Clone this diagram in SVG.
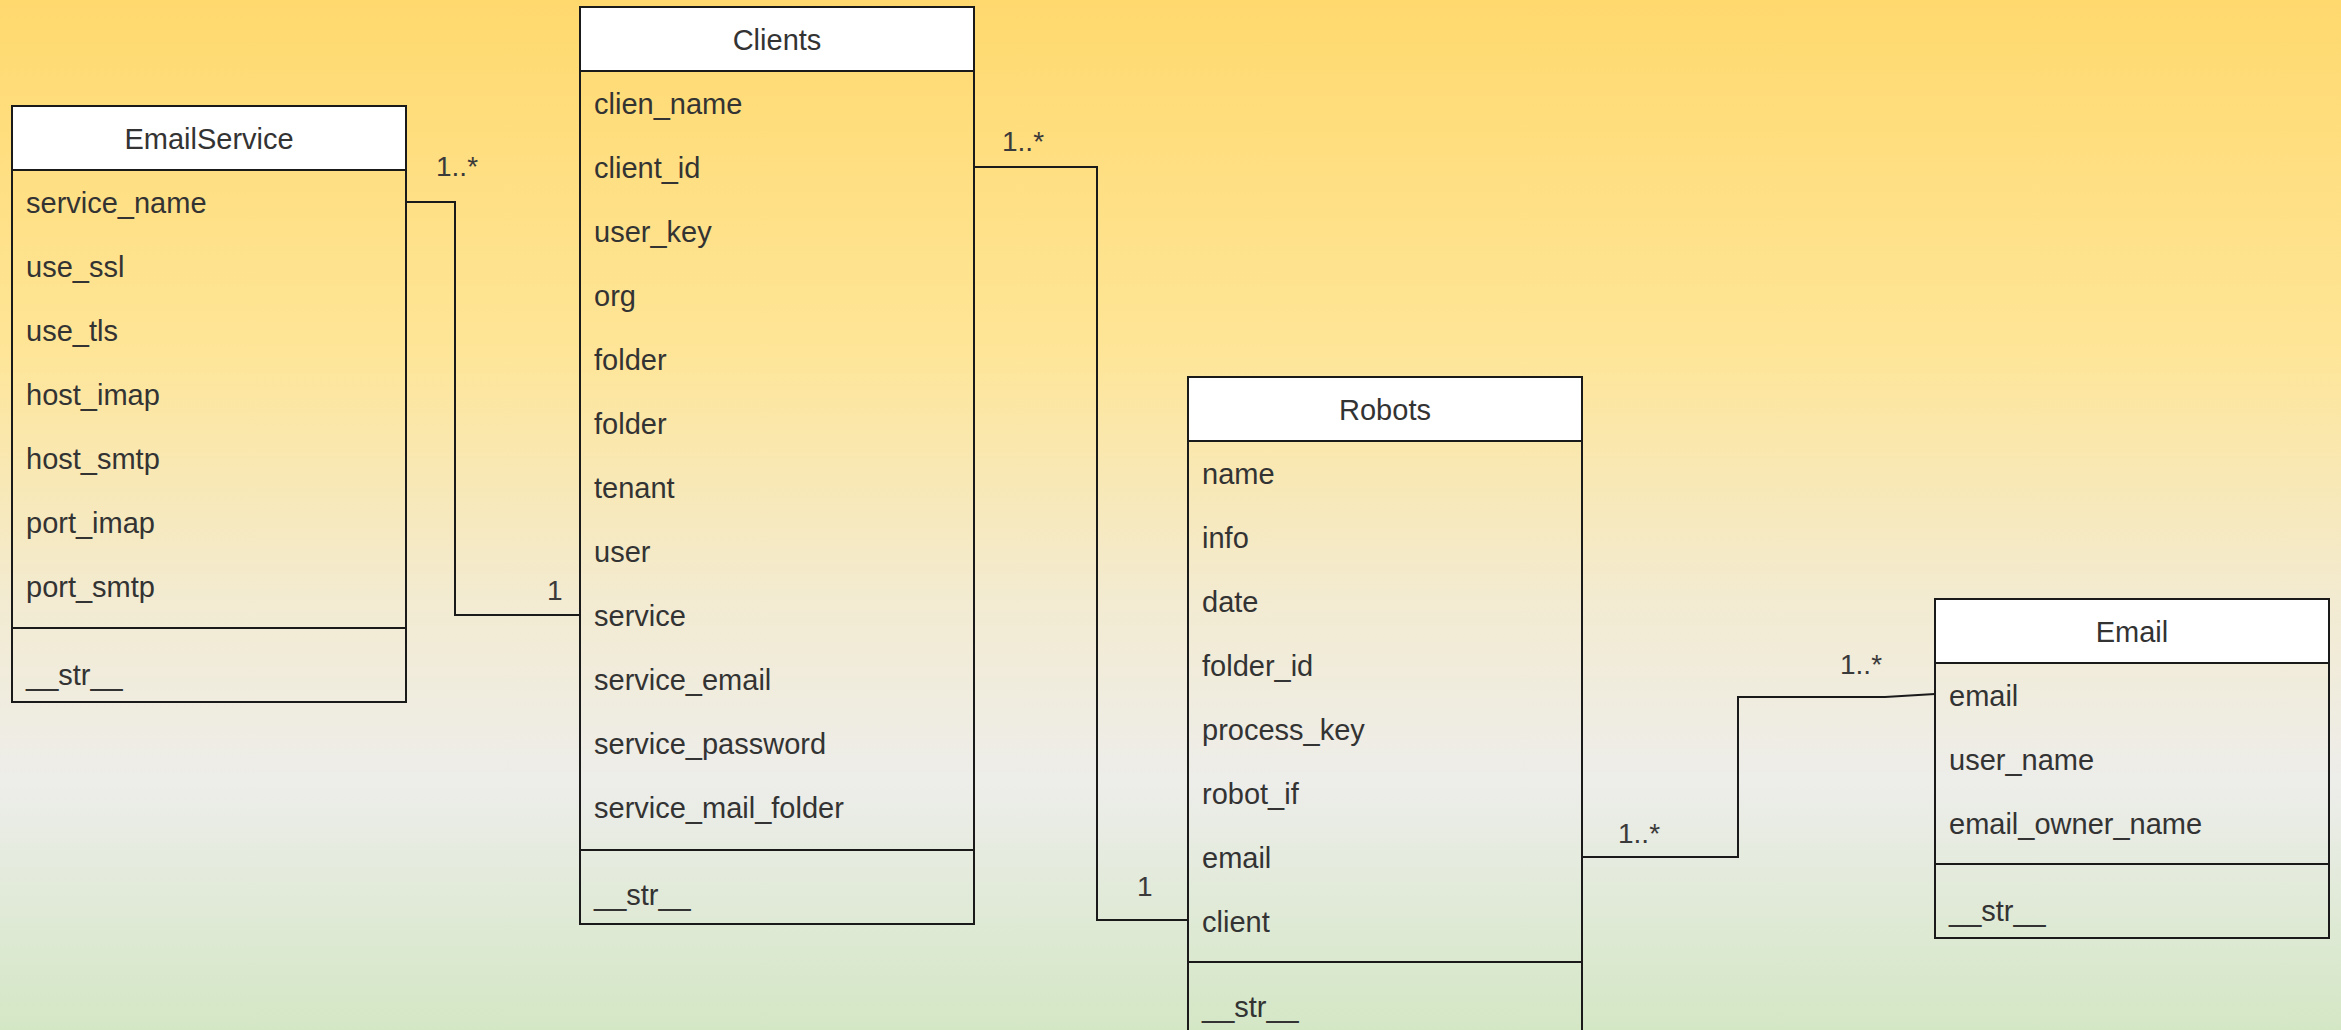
<svg xmlns="http://www.w3.org/2000/svg" width="2341" height="1030" viewBox="0 0 2341 1030">
<defs>
<linearGradient id="bg" x1="0" y1="0" x2="0" y2="1">
<stop offset="0" stop-color="#FFD96E"/>
<stop offset="0.34" stop-color="#FEE597"/>
<stop offset="0.58" stop-color="#F3EBD1"/>
<stop offset="0.76" stop-color="#EDEDEA"/>
<stop offset="1" stop-color="#D4E7C5"/>
</linearGradient>
<style>
.box{fill:none;stroke:#1a1a1a;stroke-width:2}
.hdr{fill:#ffffff;stroke:#1a1a1a;stroke-width:2}
.sep{stroke:#1a1a1a;stroke-width:2}
.t{font-family:"Liberation Sans",Arial,sans-serif;font-size:29px;fill:#333333}
.h{font-family:"Liberation Sans",Arial,sans-serif;font-size:29px;fill:#333333;text-anchor:middle}
.lbl{font-family:"Liberation Sans",Arial,sans-serif;font-size:28px;fill:#3a3a3a}
.edge{fill:none;stroke:#1a1a1a;stroke-width:2}
</style>
</defs>
<rect x="0" y="0" width="2341" height="1030" fill="url(#bg)"/>

<g id="connectors">
<polyline class="edge" points="406,202 455,202 455,615 580,615"/>
<polyline class="edge" points="974,167 1097,167 1097,920 1188,920"/>
<polyline class="edge" points="1582,857 1738,857 1738,697 1885,697 1935,694"/>
<text class="lbl" x="436" y="176">1..*</text>
<text class="lbl" x="547" y="600">1</text>
<text class="lbl" x="1002" y="151">1..*</text>
<text class="lbl" x="1137" y="896">1</text>
<text class="lbl" x="1618" y="843">1..*</text>
<text class="lbl" x="1840" y="674">1..*</text>
</g>

<g id="EmailService">
<rect class="box" x="12" y="106" width="394" height="596"/>
<rect class="hdr" x="12" y="106" width="394" height="64"/>
<line class="sep" x1="12" y1="628" x2="406" y2="628"/>
<text class="h" x="209" y="149">EmailService</text>
<text class="t" x="26" y="213">service_name</text>
<text class="t" x="26" y="277">use_ssl</text>
<text class="t" x="26" y="341">use_tls</text>
<text class="t" x="26" y="405">host_imap</text>
<text class="t" x="26" y="469">host_smtp</text>
<text class="t" x="26" y="533">port_imap</text>
<text class="t" x="26" y="597">port_smtp</text>
<text class="t" x="26" y="685">__str__</text>
</g>

<g id="Clients">
<rect class="box" x="580" y="7" width="394" height="917"/>
<rect class="hdr" x="580" y="7" width="394" height="64"/>
<line class="sep" x1="580" y1="850" x2="974" y2="850"/>
<text class="h" x="777" y="50">Clients</text>
<text class="t" x="594" y="114">clien_name</text>
<text class="t" x="594" y="178">client_id</text>
<text class="t" x="594" y="242">user_key</text>
<text class="t" x="594" y="306">org</text>
<text class="t" x="594" y="370">folder</text>
<text class="t" x="594" y="434">folder</text>
<text class="t" x="594" y="498">tenant</text>
<text class="t" x="594" y="562">user</text>
<text class="t" x="594" y="626">service</text>
<text class="t" x="594" y="690">service_email</text>
<text class="t" x="594" y="754">service_password</text>
<text class="t" x="594" y="818">service_mail_folder</text>
<text class="t" x="594" y="905">__str__</text>
</g>

<g id="Robots">
<rect class="box" x="1188" y="377" width="394" height="660"/>
<rect class="hdr" x="1188" y="377" width="394" height="64"/>
<line class="sep" x1="1188" y1="962" x2="1582" y2="962"/>
<text class="h" x="1385" y="420">Robots</text>
<text class="t" x="1202" y="484">name</text>
<text class="t" x="1202" y="548">info</text>
<text class="t" x="1202" y="612">date</text>
<text class="t" x="1202" y="676">folder_id</text>
<text class="t" x="1202" y="740">process_key</text>
<text class="t" x="1202" y="804">robot_if</text>
<text class="t" x="1202" y="868">email</text>
<text class="t" x="1202" y="932">client</text>
<text class="t" x="1202" y="1017">__str__</text>
</g>

<g id="Email">
<rect class="box" x="1935" y="599" width="394" height="339"/>
<rect class="hdr" x="1935" y="599" width="394" height="64"/>
<line class="sep" x1="1935" y1="864" x2="2329" y2="864"/>
<text class="h" x="2132" y="642">Email</text>
<text class="t" x="1949" y="706">email</text>
<text class="t" x="1949" y="770">user_name</text>
<text class="t" x="1949" y="834">email_owner_name</text>
<text class="t" x="1949" y="921">__str__</text>
</g>
</svg>
